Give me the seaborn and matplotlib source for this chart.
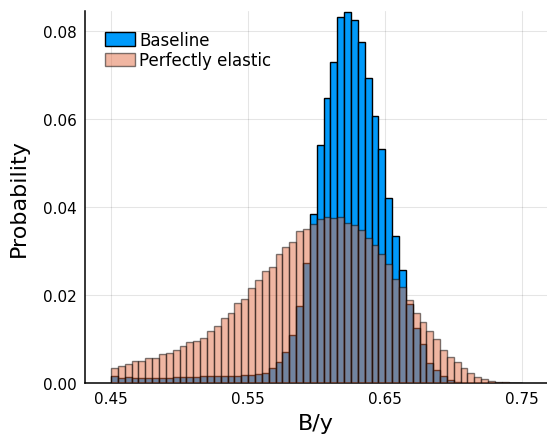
import numpy as np
import pandas as pd
import matplotlib
matplotlib.use("Agg")
import matplotlib.pyplot as plt
from matplotlib.patches import Patch
import seaborn as sns

### 1) Data (probability per bin, bins of 0.005 from 0.45)
bin_lo = 0.45
bin_width = 0.005
n_bins = 60

baseline = [0.0015, 0.0012, 0.0013, 0.0011, 0.0011, 0.0011, 0.0011, 0.0012, 0.0012, 0.0013,
            0.0013, 0.0014, 0.0014, 0.0015, 0.0016, 0.0016, 0.0017, 0.0017, 0.0017, 0.0019,
            0.0018, 0.0021, 0.0023, 0.0034, 0.0048, 0.0070, 0.0109, 0.0174, 0.0273, 0.0385,
            0.0541, 0.0647, 0.0730, 0.0832, 0.0842, 0.0825, 0.0775, 0.0693, 0.0607, 0.0531,
            0.0421, 0.0334, 0.0257, 0.0179, 0.0124, 0.0088, 0.0045, 0.0029, 0.0016, 0.0007,
            0.0003, 0.0001, 0.0001, 0.0, 0.0, 0.0, 0.0, 0.0, 0.0, 0.0]

elastic = [0.0033, 0.0039, 0.0044, 0.0051, 0.0050, 0.0057, 0.0057, 0.0066, 0.0068, 0.0075,
           0.0083, 0.0092, 0.0096, 0.0102, 0.0118, 0.0130, 0.0147, 0.0159, 0.0181, 0.0190,
           0.0215, 0.0233, 0.0254, 0.0264, 0.0293, 0.0310, 0.0321, 0.0345, 0.0349, 0.0362,
           0.0372, 0.0376, 0.0374, 0.0377, 0.0364, 0.0360, 0.0348, 0.0329, 0.0313, 0.0292,
           0.0270, 0.0236, 0.0217, 0.0189, 0.0160, 0.0138, 0.0117, 0.0100, 0.0076, 0.0058,
           0.0047, 0.0033, 0.0023, 0.0014, 0.0009, 0.0005, 0.0003, 0.0002, 0.0001, 0.0001]

labels = ["Baseline", "Perfectly elastic"]
x_ticks = [0.45, 0.55, 0.65, 0.75]
y_ticks = [0.00, 0.02, 0.04, 0.06, 0.08]

edges = [bin_lo + bin_width * i for i in range(n_bins + 1)]
centers = [(edges[i] + edges[i + 1]) / 2 for i in range(n_bins)]
df = pd.DataFrame({"by": centers, "baseline": baseline, "elastic": elastic})

### 2) Style
sns.set_style("white")
plt.rcParams["font.family"] = ["DejaVu Sans"]
plt.rcParams["xtick.direction"] = "in"
plt.rcParams["ytick.direction"] = "in"
plt.rcParams["text.color"] = "black"
plt.rcParams["axes.labelcolor"] = "black"

blue = "#009AFA"
salmon = "#E36F47"

fig = plt.figure(figsize=(5.47, 4.39), dpi=100)
ax = fig.add_axes([85 / 547, 1 - 384 / 439, 462 / 547, 372 / 439])

### 3) Histograms
sns.histplot(data=df, x="by", weights="baseline", bins=edges, color=blue,
             alpha=1.0, edgecolor="black", linewidth=1.0, ax=ax, zorder=2)
sns.histplot(data=df, x="by", weights="elastic", bins=edges, color=salmon,
             alpha=0.5, edgecolor=(0, 0, 0, 0.5), linewidth=1.0, ax=ax, zorder=3)

### 4) Axes
ax.set_xlim(0.431, 0.768)
ax.set_ylim(0, 0.0845)
ax.set_xticks(x_ticks)
ax.set_xticklabels([f"{t:.2f}" for t in x_ticks])
ax.set_yticks(y_ticks)
ax.set_yticklabels([f"{t:.2f}" for t in y_ticks])
ax.tick_params(labelsize=11, length=4, width=1, pad=6, colors="black")
ax.grid(True, color="black", alpha=0.1, linewidth=0.8, zorder=0)
ax.set_axisbelow(True)
sns.despine(ax=ax)
for s in ["left", "bottom"]:
    ax.spines[s].set_linewidth(1.1)
    ax.spines[s].set_color("black")
ax.set_xlabel("B/y", fontsize=16, labelpad=5)
ax.set_ylabel("Probability", fontsize=16, labelpad=10)

handles = [Patch(facecolor=blue, edgecolor="black", linewidth=1.0),
           Patch(facecolor=salmon, edgecolor="black", linewidth=1.0, alpha=0.5)]
ax.legend(handles, labels, loc="upper left", bbox_to_anchor=(0.043, 0.947),
          frameon=False, fontsize=12, borderpad=0, borderaxespad=0,
          handlelength=1.8, handleheight=0.85, handletextpad=0.25, labelspacing=0.15)

plt.savefig("out.png", dpi=100)
